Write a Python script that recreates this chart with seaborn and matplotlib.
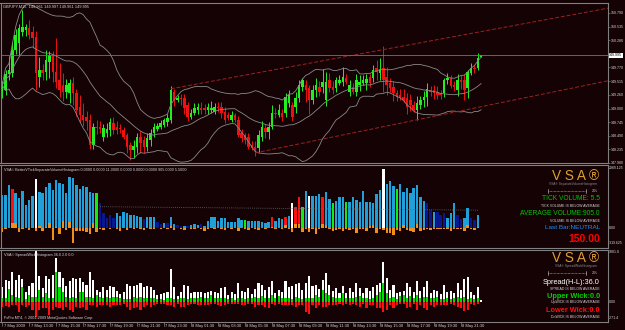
import numpy as np
import pandas as pd
import seaborn as sns
import matplotlib.pyplot as plt
from matplotlib.lines import Line2D

sns.set_theme(style="dark")
plt.rcParams['font.family'] = ['Liberation Sans', 'DejaVu Sans']

symbol = "GBPJPY,M15"

# 15 minute candles, 7-8 May 2009
opens = [149.31, 149.35, 149.65, 149.67, 150.10, 150.23, 150.43, 150.47, 150.51, 150.43,
         150.34, 149.59, 149.72, 149.68, 149.87, 150.00, 149.68, 149.53, 149.44, 149.31,
         149.29, 149.48, 149.29, 149.03, 148.88, 148.84, 148.79, 148.32, 148.65, 148.65,
         148.47, 148.54, 148.60, 148.73, 148.65, 148.64, 148.60, 148.50, 148.32, 148.22,
         148.28, 148.47, 148.41, 148.28, 148.41, 148.54, 148.62, 148.65, 148.69, 148.75,
         148.79, 149.31, 149.16, 149.20, 149.20, 149.07, 148.84, 148.92, 148.97, 149.01,
         149.01, 148.97, 148.97, 148.94, 149.03, 149.03, 148.94, 148.88, 148.79, 148.88,
         148.79, 148.54, 148.50, 148.47, 148.32, 148.28, 148.26, 148.47, 148.64, 148.56,
         148.65, 148.92, 148.88, 148.92, 148.92, 149.10, 149.07, 149.03, 149.20, 149.40,
         149.44, 149.38, 149.16, 149.35, 149.40, 149.40, 149.16, 149.53, 149.40, 149.38,
         149.48, 149.50, 149.57, 149.31, 149.40, 149.31, 149.44, 149.48, 149.48, 149.59,
         149.57, 149.76, 149.67, 149.76, 149.59, 149.48, 149.40, 149.29, 149.25, 149.22,
         149.20, 149.16, 149.07, 148.97, 149.07, 149.16, 149.22, 149.35, 149.35, 149.31,
         149.29, 149.29, 149.53, 149.57, 149.44, 149.35, 149.53, 149.53, 149.38, 149.67,
         149.76, 149.76, 149.961]
closes = [149.44, 149.65, 149.72, 150.10, 150.38, 150.51, 150.53, 150.53, 150.38, 150.32,
          149.67, 149.72, 149.67, 149.91, 150.00, 149.68, 149.50, 149.35, 149.31, 149.44,
          149.48, 149.29, 148.97, 148.88, 148.79, 148.77, 148.32, 148.65, 148.64, 148.62,
          148.64, 148.62, 148.75, 148.60, 148.60, 148.62, 148.47, 148.28, 148.22, 148.30,
          148.47, 148.35, 148.28, 148.45, 148.54, 148.65, 148.67, 148.73, 148.79, 148.82,
          149.35, 149.16, 149.20, 149.18, 149.01, 148.84, 148.92, 149.01, 149.03, 148.97,
          148.97, 149.03, 149.01, 149.03, 149.01, 148.92, 148.79, 148.82, 148.88, 148.79,
          148.50, 148.45, 148.41, 148.28, 148.26, 148.22, 148.50, 148.65, 148.56, 148.65,
          148.92, 148.90, 148.97, 148.84, 149.22, 149.25, 148.84, 149.20, 149.44, 149.53,
          149.35, 149.16, 149.35, 149.44, 149.31, 149.50, 149.50, 149.38, 149.35, 149.53,
          149.53, 149.59, 149.50, 149.44, 149.31, 149.53, 149.50, 149.53, 149.55, 149.48,
          149.72, 149.68, 149.72, 149.53, 149.44, 149.38, 149.29, 149.22, 149.20, 149.16,
          149.03, 149.07, 148.97, 149.10, 149.16, 149.22, 149.37, 149.31, 149.29, 149.25,
          149.25, 149.53, 149.57, 149.42, 149.40, 149.53, 149.50, 149.35, 149.68, 149.76,
          149.74, 149.95, 149.995]
# wicks in points (0.001)
wick_up = [70, 70, 270, 140, 110, 70, 320, 50, 140, 110,
           110, 250, 110, 180, 70, 70, 650, 320, 220, 110,
           70, 110, 70, 220, 220, 110, 110, 70, 140, 110,
           70, 110, 70, 110, 110, 70, 50, 50, 50, 110,
           70, 110, 70, 90, 70, 70, 50, 50, 40, 70,
           70, 50, 50, 70, 70, 50, 70, 90, 70, 110,
           70, 70, 140, 70, 90, 90, 90, 50, 70, 40,
           70, 70, 50, 70, 70, 110, 90, 120, 70, 90,
           140, 90, 120, 70, 70, 90, 50, 110, 90, 50,
           90, 70, 90, 140, 110, 250, 180, 140, 110, 70,
           90, 180, 70, 90, 70, 110, 120, 90, 90, 50,
           90, 140, 220, 410, 180, 90, 110, 50, 120, 140,
           90, 120, 70, 140, 70, 110, 110, 70, 90, 110,
           50, 50, 90, 50, 70, 110, 90, 110, 50, 90,
           50, 90, 2]
wick_dn = [110, 90, 110, 70, 70, 220, 70, 110, 70, 180,
           320, 180, 140, 140, 290, 180, 110, 140, 170, 110,
           180, 220, 110, 140, 110, 180, 70, 70, 110, 70,
           70, 70, 110, 70, 70, 70, 40, 110, 180, 140,
           110, 180, 110, 70, 110, 70, 40, 40, 40, 70,
           70, 110, 40, 110, 110, 70, 40, 40, 70, 70,
           70, 70, 50, 40, 70, 90, 70, 40, 40, 40,
           40, 70, 70, 40, 40, 110, 70, 70, 110, 130,
           40, 70, 40, 70, 70, 70, 70, 110, 70, 70,
           220, 270, 70, 140, 70, 110, 110, 70, 70, 70,
           40, 70, 40, 70, 40, 70, 110, 40, 140, 70,
           70, 140, 140, 220, 180, 70, 140, 70, 40, 40,
           140, 110, 40, 180, 70, 140, 180, 70, 110, 70,
           70, 70, 70, 40, 70, 110, 140, 190, 180, 40,
           70, 40, 0]
tick_vol = [1667, 1667, 2167, 1950, 1750, 1500, 1867, 1167, 1417, 1617,
            2450, 1800, 1750, 2083, 2250, 1917, 2417, 2283, 2200, 1750,
            2550, 2500, 2167, 1950, 2117, 2083, 1833, 1750, 1750, 1250,
            750, 500, 667, 500, 783, 617, 833, 783, 667, 667,
            617, 550, 450, 583, 550, 550, 333, 217, 250, 283,
            550, 217, 167, 133, 133, 117, 167, 217, 167, 217,
            117, 367, 550, 550, 383, 500, 500, 317, 300, 300,
            500, 417, 417, 383, 350, 350, 383, 300, 283, 333,
            550, 383, 517, 450, 550, 633, 1250, 1050, 1550, 1050,
            1850, 1617, 1617, 1617, 1717, 1550, 1817, 1450, 1250, 1383,
            1550, 1550, 1317, 1317, 1550, 1417, 1333, 1867, 1333, 1333,
            1250, 1717, 1917, 2967, 2200, 2350, 2117, 1967, 2200, 1833,
            2000, 1750, 2000, 2167, 1583, 1383, 1250, 917, 833, 833,
            667, 750, 500, 750, 1250, 667, 450, 500, 1000, 500,
            417, 667, 5.5]
# b normal, n low, w climax, r down, g up
vol_kind = list("bbbr" "bbbbbb" "w" "bbbbbbbbbbbbbbbbb" "g" "nnnnn" "bbbbbbbb" "n" "bbb"
                "nn" "b" "n" "bb" "nn" "b" "n" "bbb" "n" "bbbbbbbbbbbb" "g" "bbbbbbb" "r"
                "bbb" "r" "b" "w" "rr" "g" "b" "w" "bbb" "r" "bb" "g" "bbb" "g" "bbbbbbbbbb"
                "w" "bbb" "g" "bbbbbbbb" "nn" "b" "nnn" "bbb" "nn" "bb" "nn" "bb")
vol_delta = [-170, -50, 0, 250, 250, -170, -50, 0, -80, 0,
             -120, 120, -120, 80, 250, -580, 80, -280, 370, -80,
             330, -720, -120, -120, -120, -170, -280, 250, -170, -50,
             -80, 0, -40, 0, -60, -120, 0, -80, 0, -50,
             0, -60, -80, 0, -40, -60, 0, -50, 0, -30,
             120, -80, 0, -40, -80, 0, -30, -50, 0, -40,
             -120, -30, 0, -40, 0, -50, -80, 0, -40, 0,
             -120, 0, -50, -80, 0, -40, -80, 0, -40, 0,
             50, -40, 0, -50, 170, -60, -200, 200, 200, -170,
             -60, -170, -60, -280, -50, 200, 170, -50, -120, -80,
             -40, -120, -50, -100, -40, -250, -50, -40, -120, 100,
             170, -220, -60, -80, -230, -250, -330, -100, -120, 170,
             -80, -120, -170, 200, -120, -80, -40, -80, -40, -30,
             -40, -50, -30, -120, -40, -30, -40, -120, 170, -40,
             -80, 80, 0]
avg_vol_x = [29, 141]
avg_vol = [1080, 905]

chan_hi_x, chan_hi_p = [50, 179.6], [149.37, 150.88]
chan_lo_x, chan_lo_p = [75, 179.6], [148.17, 149.52]

price_ticks = [150.790, 150.535, 150.280, 149.770, 149.515, 149.260, 149.000,
               148.745, 148.490, 148.235, 147.980]
bid = 149.995
time_labels = ["7 May 2009", "7 May 13:30", "7 May 15:30", "7 May 17:30", "7 May 19:30",
               "7 May 21:30", "7 May 23:30", "8 May 01:30", "8 May 03:30", "8 May 05:30",
               "8 May 07:30", "8 May 09:30", "8 May 11:30", "8 May 13:30", "8 May 15:30",
               "8 May 17:30", "8 May 19:30", "8 May 21:30"]

BG = '#140204'
GRID = '#808080'
TXT = '#d8d8d8'
GOLD = '#dda033'

df = pd.DataFrame({'open': opens, 'close': closes, 'up': wick_up, 'dn': wick_dn,
                   'vol': tick_vol, 'delta': vol_delta, 'kind': vol_kind})
df['i'] = np.arange(len(df))
df['top'] = df[['open', 'close']].max(axis=1)
df['bot'] = df[['open', 'close']].min(axis=1)
df['high'] = df['top'] + df['up'] / 1000
df['low'] = df['bot'] - df['dn'] / 1000
df['spread'] = (df['high'] - df['low']) * 1000
mid = df['close'].rolling(20, min_periods=1).mean()
sd = df['close'].rolling(20, min_periods=1).std(ddof=0).fillna(0)

W, H = 625, 330
fig = plt.figure(figsize=(W / 100, H / 100), dpi=100, facecolor=BG)


def rect(x0, y0, x1, y1):
    return [x0 / W, 1 - y1 / H, (x1 - x0) / W, (y1 - y0) / H]


ax_p = fig.add_axes(rect(0.5, 3, 608, 163))
ax_v = fig.add_axes(rect(0.5, 165, 608, 248))
ax_s = fig.add_axes(rect(0.5, 250, 608, 322))
for ax in (ax_p, ax_v, ax_s):
    ax.set_facecolor(BG)
    ax.grid(False)
    ax.set_xlim(-0.5, 179.6)
    ax.set_xticks([])
    for sp in ax.spines.values():
        sp.set_color(GRID)
        sp.set_linewidth(0.8)
ax_s.spines['bottom'].set_linestyle((0, (1, 1)))

# price panel
ax_p.set_ylim(147.980, 150.977)
bull = df['close'] >= df['open']
ccol = np.where(bull, '#22ee22', '#ee1111')
ax_p.vlines(df['i'], df['low'], df['high'], colors=ccol, lw=0.7)
ax_p.bar(df['i'], np.maximum(df['top'] - df['bot'], 0.006), bottom=df['bot'],
         width=0.74, color=ccol, lw=0)
for band in (mid + 2 * sd, mid, mid - 2 * sd):
    sns.lineplot(x=df['i'], y=band, ax=ax_p, color='#8a8a8a', linewidth=0.6)
for cx, cp in ((chan_hi_x, chan_hi_p), (chan_lo_x, chan_lo_p)):
    sns.lineplot(x=cx, y=cp, ax=ax_p, color='#a02222', linewidth=0.7,
                 linestyle=(0, (4, 2)))
ax_p.axhline(bid, color='#667788', lw=0.6)
ax_p.set_xlabel('')
ax_p.set_ylabel('')
ax_p.yaxis.tick_right()
ax_p.set_yticks(price_ticks)
ax_p.set_yticklabels([f"{v:.3f}" for v in price_ticks])
ax_p.tick_params(axis='y', length=1.5, width=0.4, color='#999999', labelsize=2.6,
                 labelcolor=TXT, pad=0.6, right=True, left=False)
ax_p.text(1.002, bid, f"{bid:.3f}", transform=ax_p.get_yaxis_transform(), ha='left',
          va='center', fontsize=2.6, color='black', clip_on=False,
          bbox=dict(boxstyle='square,pad=0.15', fc='white', ec='none'))
last = df.iloc[-1]
ax_p.text(0.004, 0.99, f"{symbol}  {last['open']:.3f} {last['high']:.3f} "
          f"{last['low']:.3f} {last['close']:.3f}", transform=ax_p.transAxes,
          ha='left', va='top', fontsize=2.8, color=TXT)

# volume panel
ax_v.set_ylim(-985, 3165)
ax_v.set_yticks([])
vpal = {'b': '#1fa0d8', 'n': '#0a1890', 'w': '#ffffff', 'r': '#ff1010', 'g': '#10ee10'}
ax_v.bar(df['i'], df['vol'], width=0.72, color=[vpal[k] for k in df['kind']], lw=0)
ax_v.bar(df['i'], df['delta'], width=0.72, color='#f0901a', lw=0)
sns.lineplot(x=avg_vol_x, y=avg_vol, ax=ax_v, color='#6a6a6a', linewidth=0.6,
             linestyle=(0, (1, 1.5)))
ax_v.set_xlabel('')
ax_v.set_ylabel('')
ax_v.text(0.005, 0.965, "VSA\u00a9 BetterVTickSeparateVolumeHistogram 0.0000 0.0000 11.0000 "
          "0.0000 0.0000 0.0000 905.0000 5.5000", transform=ax_v.transAxes,
          ha='left', va='top', fontsize=2.7, color=TXT)

# spread / wick panel
ax_s.set_ylim(-438, 1117)
ax_s.set_yticks([])
ax_s.bar(df['i'], df['spread'], width=0.62, color='#ffffff', lw=0)
ax_s.bar(df['i'], df['up'], width=0.62, color='#00e000', lw=0)
ax_s.bar(df['i'], -df['dn'], width=0.62, color='#ff1010', lw=0)
ax_s.text(0.005, 0.965, f"VSA\u00a9 SpreadWickHistogram {last['spread']:.1f} "
          f"{last['up']:.1f} {last['dn']:.1f}", transform=ax_s.transAxes,
          ha='left', va='top', fontsize=2.7, color=TXT)
ax_s.text(0.005, 0.06, "FxPro MT4, \u00a9 2001-2009 MetaQuotes Software Corp.",
          transform=ax_s.transAxes, ha='left', va='center', fontsize=2.7, color=TXT)

# time axis
tx = ax_s.get_xaxis_transform()
for k, lab in enumerate(time_labels):
    b = 8 * k
    ax_s.plot([b, b], [0, -0.06], transform=tx, color=GRID, lw=0.5, clip_on=False)
    ax_s.text(b + 0.4, -0.05, lab, transform=tx, ha='left', va='center',
              fontsize=2.9, color=TXT, clip_on=False)


def ftext(x, y, s, **kw):
    fig.text(x / W, 1 - y / H, s, va='center', **kw)


# right scale labels of the lower panels
for y, s in ((167.7, "2989.125"), (228.3, "0.00"), (243, "-319.625"),
             (252.3, "1081.0"), (301.7, "0.00"), (318.3, "-271.4")):
    ftext(609, y, s, ha='left', fontsize=2.5, color=TXT)


def vsa_block(y0, sub):
    ftext(599, y0, "V S A \u00ae", ha='right', fontsize=9.8, color=GOLD)
    ftext(597, y0 + 8.5, sub, ha='right', fontsize=2.3, color='#8a8a8a')
    yb = y0 + 14.5
    fig.add_artist(Line2D([548 / W, 586 / W], [1 - yb / H] * 2, color='#b0b0b0',
                          lw=0.5, linestyle=(0, (1, 1))))
    for xb in (548, 586):
        fig.add_artist(Line2D([xb / W] * 2, [1 - (yb - 2) / H, 1 - (yb + 2) / H],
                              color='#b0b0b0', lw=0.5))
    ftext(598, yb, "2%", ha='right', fontsize=3.2, color='#c8c8c8')


vsa_block(176, "VSA\u00ae SeparateVolumeHistogram")
ftext(600, 199, f"TICK VOLUME: {last['vol']:.1f}", ha='right', fontsize=4.8, color='#00c800')
ftext(600, 205.7, "TICK VOLUME IS BELOW AVERAGE", ha='right', fontsize=2.5, color=TXT)
ftext(600, 213.5, f"AVERAGE VOLUME:{avg_vol[-1]:.1f}", ha='right', fontsize=4.8, color='#00c800')
ftext(600, 220.5, "VOLUME IS BELOW AVERAGE", ha='right', fontsize=2.5, color=TXT)
ftext(600, 227.5, "Last Bar:NEUTRAL", ha='right', fontsize=4.6, color='#1e90ff')
ftext(600, 239, f"{last['close']:.2f}", ha='right', fontsize=7.5, color='#ff0000',
      fontweight='bold')

vsa_block(258, "VSA\u00ae SpreadWickHistogram")
ftext(600, 282.5, f"Spread(H-L):{last['spread']:.1f}", ha='right', fontsize=5.3, color='white')
ftext(600, 289, "SPREAD IS BELOW AVERAGE", ha='right', fontsize=2.5, color=TXT)
ftext(600, 296.5, f"Upper Wick:{0:.1f}", ha='right', fontsize=5.3, color='#00d000',
      fontweight='bold')
ftext(600, 302.5, "UpWICK IS BELOW AVERAGE", ha='right', fontsize=2.5, color=TXT)
ftext(600, 310, f"Lower Wick:{last['dn']:.1f}", ha='right', fontsize=5.3, color='#ff1010',
      fontweight='bold')
ftext(600, 316.5, "DnWICK IS BELOW AVERAGE", ha='right', fontsize=2.5, color=TXT)

fig.savefig("out.png", dpi=100, facecolor=BG)
